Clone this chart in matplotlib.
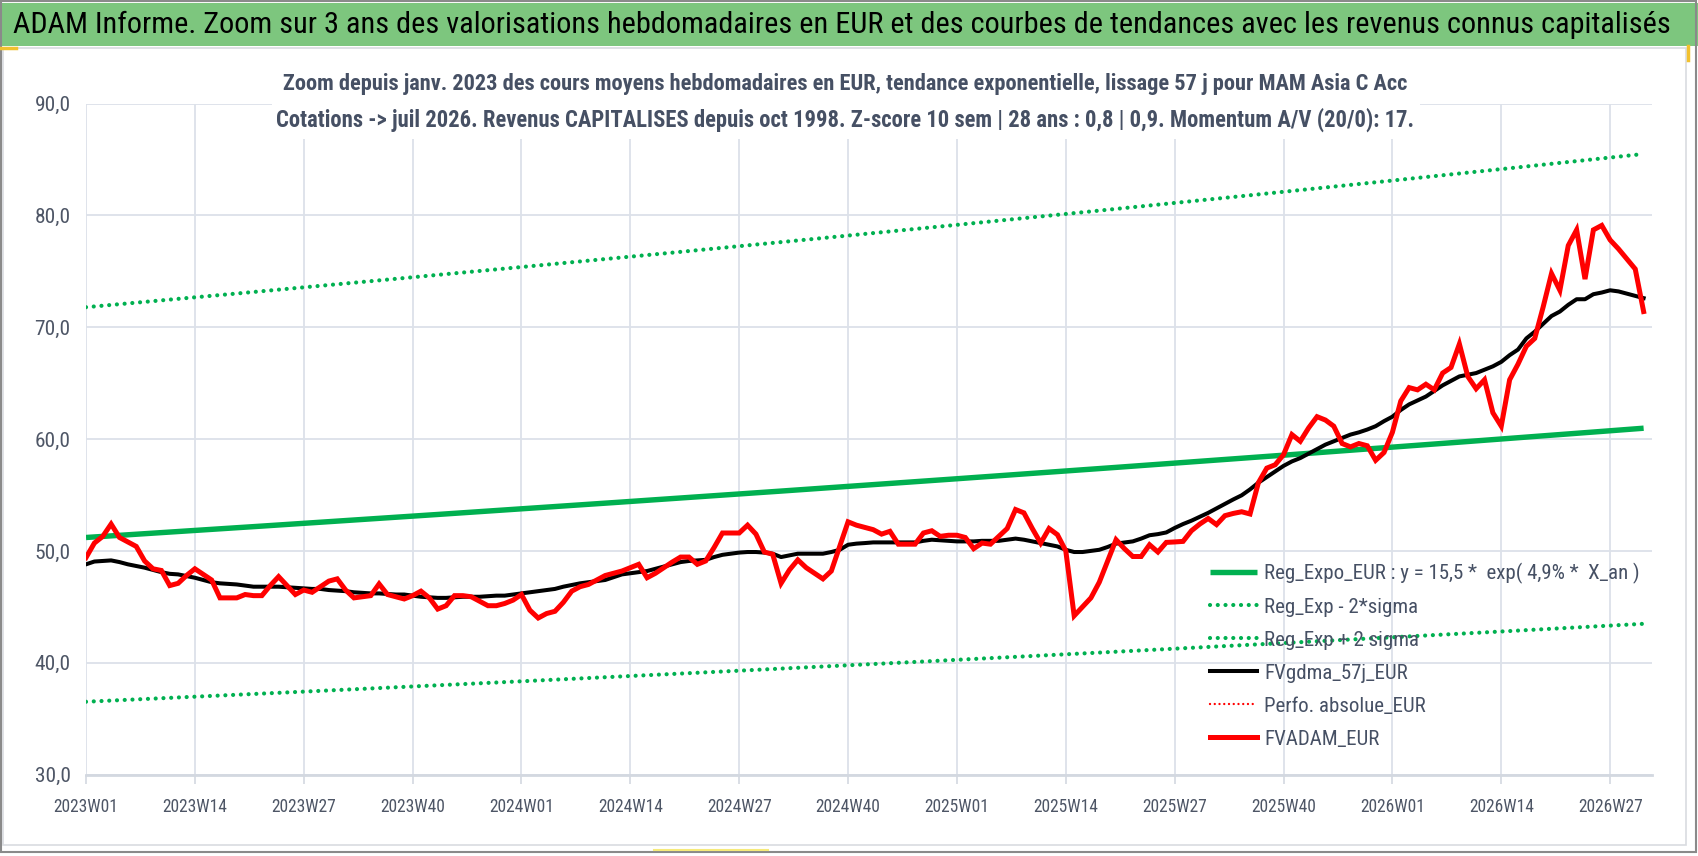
import numpy as np
import matplotlib
matplotlib.use("Agg")
import matplotlib.pyplot as plt
from matplotlib import font_manager
from matplotlib.lines import Line2D
from matplotlib.patches import Rectangle

# ---------------- data ----------------
week_years = [2023, 2024, 2025, 2026]
weeks_per_year = [52, 52, 52, 31]
categories = [f"{y}W{w:02d}" for y, n in zip(week_years, weeks_per_year) for w in range(1, n + 1)]
tick_step = 13

fvadam_eur = [
    49.4, 50.7, 51.3, 52.4, 51.2, 50.8, 50.4, 49.1, 48.4, 48.25,
    46.9, 47.1, 47.8, 48.4, 47.9, 47.4, 45.8, 45.8, 45.8, 46.1,
    46.0, 46.0, 46.9, 47.7, 46.9, 46.1, 46.5, 46.3, 46.8, 47.3,
    47.5, 46.5, 45.8, 45.9, 46.0, 47.05, 46.1, 45.9, 45.7, 46.0,
    46.4, 45.8, 44.8, 45.1, 46.0, 46.0, 45.9, 45.5, 45.1, 45.1,
    45.3, 45.6, 46.1, 44.7, 44.0, 44.4, 44.6, 45.4, 46.4, 46.8,
    47.0, 47.4, 47.8, 48.0, 48.2, 48.5, 48.8, 47.6, 48.0, 48.5,
    49.0, 49.45, 49.45, 48.8, 49.1, 50.3, 51.6, 51.6, 51.6, 52.3,
    51.5, 49.9, 49.7, 47.1, 48.3, 49.2, 48.5, 48.0, 47.5, 48.2,
    50.4, 52.6, 52.3, 52.1, 51.9, 51.5, 51.75, 50.6, 50.6, 50.6,
    51.6, 51.8, 51.3, 51.4, 51.4, 51.2, 50.2, 50.7, 50.6, 51.3,
    52.0, 53.7, 53.4, 52.0, 50.7, 52.0, 51.45, 50.0, 44.2, 45.0,
    45.8, 47.2, 49.1, 51.0, 50.2, 49.5, 49.5, 50.55, 49.9, 50.76,
    50.8, 50.85, 51.8, 52.4, 52.9, 52.35, 53.15, 53.35, 53.5, 53.3,
    56.1, 57.4, 57.7, 58.6, 60.4, 59.8, 61.0, 62.0, 61.7, 61.15,
    59.6, 59.3, 59.6, 59.4, 58.1, 58.8, 60.6, 63.4, 64.6, 64.4,
    64.9, 64.4, 65.9, 66.4, 68.5, 65.6, 64.5, 65.3, 62.35, 61.15,
    65.3, 66.7, 68.3, 69.0, 71.8, 74.8, 73.3, 77.3, 78.7, 74.3,
    78.7, 79.1, 77.8, 77.0, 76.1, 75.2, 71.4,
]

fvgdma_57j_eur = [
    48.8, 49.05, 49.1, 49.15, 49.0, 48.8, 48.65, 48.5, 48.3, 48.1,
    47.95, 47.9, 47.75, 47.6, 47.4, 47.2, 47.1, 47.05, 47.0, 46.9,
    46.8, 46.8, 46.8, 46.8, 46.75, 46.7, 46.65, 46.6, 46.6, 46.5,
    46.45, 46.4, 46.3, 46.25, 46.2, 46.2, 46.15, 46.1, 46.1, 46.0,
    45.9, 45.85, 45.8, 45.8, 45.85, 45.9, 45.9, 45.9, 45.95, 46.0,
    46.0, 46.1, 46.2, 46.3, 46.4, 46.5, 46.6, 46.8, 46.95, 47.1,
    47.2, 47.3, 47.4, 47.65, 47.9, 48.0, 48.1, 48.2, 48.4, 48.6,
    48.8, 49.0, 49.1, 49.15, 49.2, 49.45, 49.65, 49.75, 49.85, 49.9,
    49.9, 49.85, 49.75, 49.45, 49.6, 49.75, 49.75, 49.75, 49.75, 49.9,
    50.1, 50.55, 50.65, 50.7, 50.76, 50.76, 50.76, 50.76, 50.76, 50.76,
    50.9, 51.0, 50.95, 50.9, 50.85, 50.85, 50.85, 50.9, 50.9, 50.9,
    51.0, 51.1, 51.0, 50.85, 50.7, 50.55, 50.4, 50.1, 49.9, 49.9,
    50.0, 50.1, 50.35, 50.65, 50.75, 50.85, 51.1, 51.4, 51.5, 51.65,
    52.05, 52.4, 52.7, 53.05, 53.4, 53.8, 54.2, 54.6, 54.97, 55.5,
    56.1, 56.6, 57.1, 57.6, 58.0, 58.3, 58.7, 59.1, 59.5, 59.8,
    60.1, 60.4, 60.6, 60.85, 61.15, 61.6, 62.0, 62.6, 63.1, 63.45,
    63.8, 64.3, 64.8, 65.2, 65.6, 65.75, 65.9, 66.2, 66.5, 66.9,
    67.5, 68.0, 69.0, 69.6, 70.3, 71.0, 71.4, 72.0, 72.5, 72.5,
    72.95, 73.1, 73.3, 73.2, 73.0, 72.8, 72.6,
]

# exponential regression as quoted in the legend: y = 15,5 * exp(4,9% * X_an)
reg_a = 15.5
reg_rate = 0.049
x_an_start = 24.385      # X_an (years) at 2023W01
weeks_per_an = 52.18
two_sigma = 0.338        # band half-width in log space

y_ticks = [30, 40, 50, 60, 70, 80, 90]
y_tick_labels = ["30,0", "40,0", "50,0", "60,0", "70,0", "80,0", "90,0"]

banner_title = ("ADAM Informe. Zoom sur 3 ans des valorisations hebdomadaires en EUR "
                "et des courbes de tendances avec les revenus connus capitalisés")
subtitle_1 = ("Zoom depuis janv. 2023 des cours moyens hebdomadaires en EUR, tendance "
              "exponentielle, lissage 57 j pour MAM Asia C Acc")
subtitle_2 = ("Cotations -> juil 2026. Revenus CAPITALISES depuis oct 1998. Z-score 10 sem | "
              "28 ans : 0,8 | 0,9. Momentum A/V (20/0): 17.")
legend_labels = ["Reg_Expo_EUR : y = 15,5 *  exp( 4,9% *  X_an )",
                 "Reg_Exp - 2*sigma", "Reg_Exp + 2 sigma", "FVgdma_57j_EUR",
                 "Perfo. absolue_EUR", "FVADAM_EUR"]

# ---------------- style ----------------
available = {f.name for f in font_manager.fontManager.ttflist}
FONT = "DejaVu Sans"
for cand in ["Liberation Sans Narrow", "Roboto Condensed", "Open Sans Condensed",
             "Roboto", "Liberation Sans"]:
    if cand in available:
        FONT = cand
        break
plt.rcParams["font.family"] = [FONT, "DejaVu Sans"]

GREEN = "#00B050"
RED = "#FF0000"
GRID = "#DCE1E9"
TXT = "#465064"
TICKTXT = "#4E5666"

W, H = 1698, 856
def fx(px):
    return px / W
def fy(py):
    return 1 - py / H

fig = plt.figure(figsize=(W / 100, H / 100), dpi=100)
fig.patch.set_facecolor("white")
renderer = fig.canvas.get_renderer()

def fit(txt, target_w):
    w = txt.get_window_extent(renderer).width
    txt.set_fontsize(txt.get_fontsize() * target_w / w)
    return txt.get_fontsize()

def measure_size(s, target_w, **kw):
    t = fig.text(0, 0, s, fontsize=12, **kw)
    size = fit(t, target_w)
    t.remove()
    return size

# ---------------- frame / banner ----------------
fig.add_artist(Rectangle((0, fy(46)), 1, fy(3) - fy(46), transform=fig.transFigure,
                         facecolor="#7DC67E", edgecolor="none", zorder=0))
fig.add_artist(Rectangle((fx(3), fy(845)), fx(1686) - fx(3), fy(48) - fy(845),
                         transform=fig.transFigure, facecolor="none",
                         edgecolor="#D9DCE0", lw=1.2, zorder=0))
fig.add_artist(Rectangle((fx(0.8), fy(852)), fx(1696) - fx(0.8), fy(0.8) - fy(852),
                         transform=fig.transFigure, facecolor="none",
                         edgecolor="#8A8A8A", lw=1.5, zorder=5))
fig.add_artist(Line2D([fx(0), fx(16)], [fy(47.5), fy(47.5)], transform=fig.transFigure,
                      color="#F2C12E", lw=2.5, zorder=5))
fig.add_artist(Line2D([fx(1687.5), fx(1687.5)], [fy(46), fy(60)], transform=fig.transFigure,
                      color="#F2C12E", lw=2.5, zorder=5))
fig.add_artist(Line2D([fx(654), fx(768)], [fy(850), fy(850)], transform=fig.transFigure,
                      color="#F6EA7A", lw=1.5, zorder=5))

bt = fig.text(fx(13), fy(25), banner_title, ha="left", va="center", color="black",
              fontsize=20)
fit(bt, 1650)

# ---------------- axes ----------------
ax = fig.add_axes([fx(86), fy(774.6), fx(1652) - fx(86), fy(103.5) - fy(774.6)])
ax.set_facecolor("none")
N = len(categories)
x = np.arange(N)
x_an = x_an_start + x / weeks_per_an
reg_expo = reg_a * np.exp(reg_rate * x_an)
reg_low = reg_expo * np.exp(-two_sigma)
reg_high = reg_expo * np.exp(two_sigma)

dot = (0, (0.01, 1.85))
l_trend, = ax.plot(x, reg_expo, color=GREEN, lw=3.9, solid_capstyle="butt", zorder=3)
l_low, = ax.plot(x, reg_low, color=GREEN, lw=3.0, linestyle=dot, dash_capstyle="round", zorder=3)
l_high, = ax.plot(x, reg_high, color=GREEN, lw=3.0, linestyle=dot, dash_capstyle="round", zorder=3)
l_gdma, = ax.plot(x, fvgdma_57j_eur, color="black", lw=2.9, zorder=4, solid_joinstyle="round")
l_perfo = Line2D([], [], color=RED, lw=1.7, linestyle=(0, (0.01, 2.0)), dash_capstyle="round")
l_adam, = ax.plot(x, fvadam_eur, color=RED, lw=3.6, zorder=5, solid_joinstyle="miter")

ax.set_xlim(0, N)
ax.set_ylim(30, 90)
ax.set_axisbelow(True)
ax.grid(True, color=GRID, lw=1.3)
for s in ["left", "right", "top"]:
    ax.spines[s].set_visible(False)
ax.spines["bottom"].set_color("#D3D8E0")
ax.spines["bottom"].set_linewidth(2.0)

xt_size = measure_size("2023W01", 53) * 1.22
yt_size = measure_size("90,0", 31) * 1.15
ax.set_xticks(x[::tick_step])
ax.set_xticklabels(categories[::tick_step], fontsize=xt_size, color=TICKTXT)
ax.set_yticks(y_ticks)
ax.set_yticklabels(y_tick_labels, fontsize=yt_size, color=TICKTXT)
ax.tick_params(axis="x", length=6.5, width=1.2, color="#D3D8E0", pad=10.5)
ax.tick_params(axis="y", length=0, pad=11)

# ---------------- subtitle box ----------------
fig.add_artist(Rectangle((fx(272), fy(139)), fx(1420) - fx(272), fy(62) - fy(139),
                         transform=fig.transFigure, facecolor="white", edgecolor="none",
                         zorder=2))
s1 = fig.text(fx(845), fy(84), subtitle_1, ha="center", va="center", color=TXT,
              fontweight="bold", fontsize=14, zorder=3)
fit(s1, 1132)
s2 = fig.text(fx(845.5), fy(120), subtitle_2, ha="center", va="center", color=TXT,
              fontweight="bold", fontsize=14, zorder=3)
fit(s2, 1141)

# ---------------- legend ----------------
lg_size = measure_size(legend_labels[0], 371) * 1.01
F = lg_size * 100 / 72
handles = [l_trend, l_low, l_high, l_gdma, l_perfo, l_adam]
leg = ax.legend(handles, legend_labels, loc="upper left",
                bbox_to_anchor=(fx(1210), fy(572 - 0.45 * F)),
                bbox_transform=fig.transFigure, frameon=False, fontsize=lg_size,
                handlelength=47 / F, handletextpad=7 / F,
                labelspacing=(34.4 - 0.98 * F) / F, borderpad=0, borderaxespad=0,
                labelcolor=TXT)
leg.set_zorder(6)

fig.savefig("out.png", dpi=100)
